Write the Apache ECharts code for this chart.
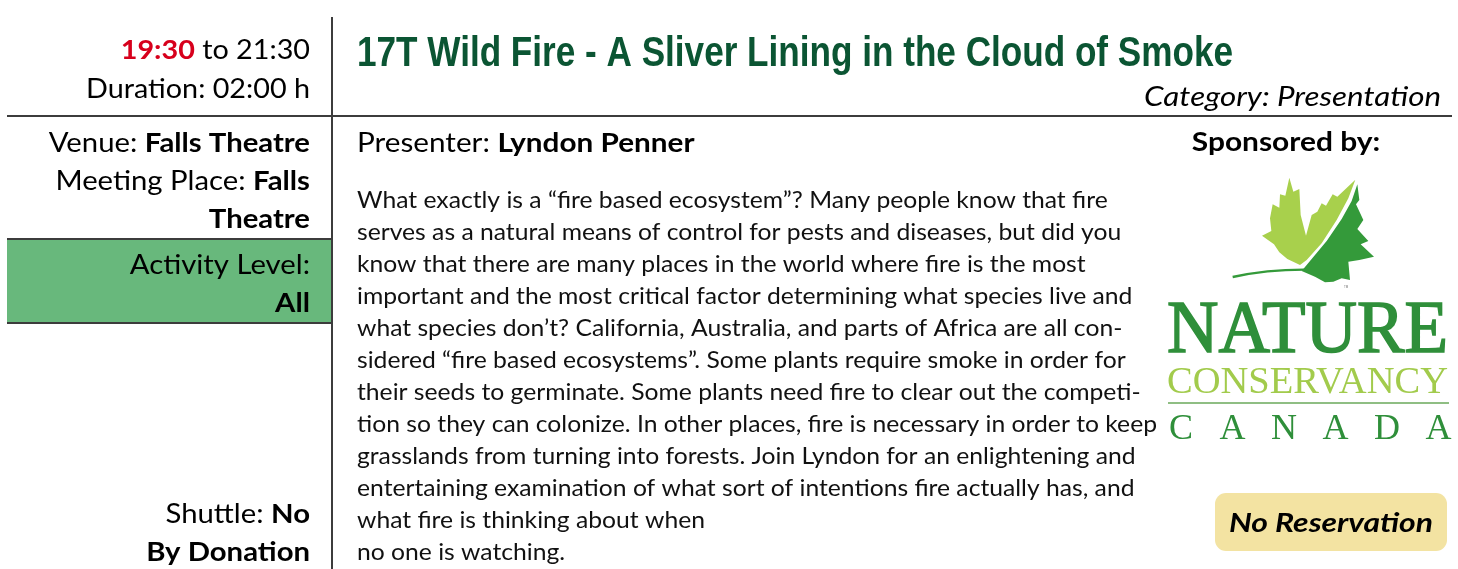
<!DOCTYPE html>
<html>
<head>
<meta charset="utf-8">
<script src="https://cdn.jsdelivr.net/npm/echarts@6/dist/echarts.min.js"></script>
<style>
  html, body { margin: 0; padding: 0; background: #fff; }
  #main { width: 1458px; height: 569px; }
</style>
</head>
<body>
<div id="main"></div>
<script>
// text content of the programme card
const timeLines = ['{r|19:30} to 21:30', 'Duration: 02:00 h'];
const titleText = '17T Wild Fire - A Sliver Lining in the Cloud of Smoke';
const categoryText = 'Category: Presentation';
const venueLines = ['Venue: {b|Falls Theatre}', 'Meeting Place: {b|Falls}', '{b|Theatre}'];
const activityLines = ['Activity Level:', '{b|All}'];
const footLines = ['Shuttle: {b|No}', '{b|By Donation}'];
const presenterText = 'Presenter: {b|Lyndon Penner}';
const bodyLines = [
  'What exactly is a \u201cfire based ecosystem\u201d? Many people know that fire',
  'serves as a natural means of control for pests and diseases, but did you',
  'know that there are many places in the world where fire is the most',
  'important and the most critical factor determining what species live and',
  'what species don\u2019t? California, Australia, and parts of Africa are all con-',
  'sidered \u201cfire based ecosystems\u201d. Some plants require smoke in order for',
  'their seeds to germinate. Some plants need fire to clear out the competi-',
  'tion so they can colonize. In other places, fire is necessary in order to keep',
  'grasslands from turning into forests. Join Lyndon for an enlightening and',
  'entertaining examination of what sort of intentions fire actually has, and',
  'what fire is thinking about when',
  'no one is watching.'
];
const sponsorText = 'Sponsored by:';
const badgeText = 'No Reservation';
const logoWords = ['NATURE', 'CONSERVANCY', 'CANADA'];

const FONT = 'Lato, "Open Sans", sans-serif';
const richB = { b: { fontWeight: 'bold', fontFamily: FONT, fontSize: 27, fill: '#000' },
                r: { fontWeight: 'bold', fontFamily: FONT, fontSize: 27, fill: '#d7001c' } };

const chart = echarts.init(document.getElementById('main'), null, { renderer: 'canvas' });

// width helper so the substitute faces can be squeezed/stretched to fit
const ctx = document.createElement('canvas').getContext('2d');
function textWidth(txt, font) { ctx.font = font; return ctx.measureText(txt).width; }

function rt(text, x, y, align, size, sx, extra) {
  return {
    type: 'text', x: x, y: y, scaleX: sx || 1,
    style: Object.assign({ text: text, fontFamily: FONT, fontSize: size, fill: '#000',
             align: align, verticalAlign: 'middle', rich: richB }, extra || {})
  };
}

const elements = [];

// rules
const lineStyle = { stroke: '#3c3c3c', lineWidth: 2 };
elements.push({ type: 'rect', shape: { x: 7, y: 239, width: 325, height: 84 },
  style: { fill: '#68b87c' } });
elements.push({ type: 'line', shape: { x1: 332, y1: 17, x2: 332, y2: 569 }, style: lineStyle });
elements.push({ type: 'line', shape: { x1: 7, y1: 116, x2: 1452, y2: 116 }, style: lineStyle });
elements.push({ type: 'line', shape: { x1: 7, y1: 239, x2: 332, y2: 239 }, style: lineStyle });
elements.push({ type: 'line', shape: { x1: 7, y1: 323, x2: 332, y2: 323 }, style: lineStyle });

// left column
const LS = 1.085;
timeLines.forEach((t, i) => elements.push(rt(t, 310, 50 + i * 39, 'right', 27, 1.065)));
venueLines.forEach((t, i) => elements.push(rt(t, 310, 143 + i * 38, 'right', 27, LS)));
activityLines.forEach((t, i) => elements.push(rt(t, 310, 265 + i * 38, 'right', 27, LS)));
footLines.forEach((t, i) => elements.push(rt(t, 310, 514 + i * 38, 'right', 27, LS)));

// title, squeezed to the reference width
const titleFont = 'bold 43px "Liberation Sans", Arial, sans-serif';
const titleScale = 876 / textWidth(titleText, titleFont);
elements.push({ type: 'text', x: 357, y: 54, scaleX: titleScale,
  style: { text: titleText, fontFamily: '"Liberation Sans", Arial, sans-serif', fontWeight: 'bold',
           fontSize: 43, fill: '#0b5533', align: 'left', verticalAlign: 'middle' } });
elements.push(rt(categoryText, 1441, 97, 'right', 27, 1.16, { fontStyle: 'italic' }));

// presenter + description
elements.push(rt(presenterText, 357, 143, 'left', 27, 1.1));
const bodyFont = '23px Lato';
const bodyScale = 800 / textWidth(bodyLines[7], bodyFont);
bodyLines.forEach((t, i) => elements.push({ type: 'text', x: 357, y: 201 + i * 32, scaleX: bodyScale,
  style: { text: t, fontFamily: FONT, fontSize: 23, fill: '#111', align: 'left', verticalAlign: 'middle' } }));

// sponsor block
elements.push(rt(sponsorText, 1286, 143, 'center', 26, 1.15, { fontWeight: 'bold' }));

// leaf mark (drawn in 3x local units)
const lightLeaf = [[268,38],[280,80],[298,72],[302,150],[318,212],[335,150],[352,140],[365,115],[378,122],
  [398,88],[412,95],[466,44],[445,100],[410,165],[365,235],[320,285],[300,300],[262,282],[238,262],
  [222,238],[186,212],[214,198],[210,160],[218,118],[238,128],[240,88],[256,92]];
const darkLeaf = [[472,58],[478,105],[468,118],[490,165],[472,192],[505,228],[482,238],[522,275],[478,285],
  [445,290],[450,345],[425,340],[400,350],[375,352],[345,335],[305,318],[335,282],[380,228],[425,162],[455,108]];
elements.push({ type: 'group', x: 1200, y: 165, scaleX: 1 / 3, scaleY: 1 / 3, children: [
  { type: 'polygon', shape: { points: lightLeaf }, style: { fill: '#a8d04c' } },
  { type: 'polygon', shape: { points: darkLeaf }, style: { fill: '#349a3a' } },
  { type: 'bezierCurve', shape: { x1: 98, y1: 336, cpx1: 200, cpy1: 314, x2: 312, y2: 314 },
    style: { stroke: '#349a3a', lineWidth: 7, fill: null } },
  { type: 'text', x: 432, y: 366, style: { text: 'TM', fontSize: 9, fill: '#777', align: 'left', verticalAlign: 'middle' } }
] });

const serif = '"Liberation Serif", "DejaVu Serif", serif';
const natScale = 281 / textWidth(logoWords[0], '74px ' + serif);
elements.push({ type: 'text', x: 1167, y: 333, scaleX: natScale,
  style: { text: logoWords[0], fontFamily: serif, fontSize: 74, fill: '#2f8f3a', stroke: '#2f8f3a', lineWidth: 1.6,
           align: 'left', verticalAlign: 'middle' } });
const conScale = 281 / textWidth(logoWords[1], '37px ' + serif);
elements.push({ type: 'text', x: 1167, y: 383, scaleX: conScale,
  style: { text: logoWords[1], fontFamily: serif, fontSize: 37, fill: '#a2cb4c', align: 'left', verticalAlign: 'middle' } });
elements.push({ type: 'line', shape: { x1: 1168, y1: 403, x2: 1449, y2: 403 }, style: { stroke: '#6aa85a', lineWidth: 1.5 } });
logoWords[2].split('').forEach((c, i) => elements.push({ type: 'text', x: 1181 + i * 51.5, y: 430,
  style: { text: c, fontFamily: serif, fontSize: 36, fill: '#2f8f3a', align: 'center', verticalAlign: 'middle' } }));

// badge
elements.push({ type: 'rect', shape: { x: 1215, y: 493, width: 232, height: 58, r: 11 },
  style: { fill: '#f3e3a2' } });
elements.push(rt(badgeText, 1331, 523, 'center', 27, 1.18, { fontWeight: 'bold', fontStyle: 'italic' }));

chart.setOption({ animation: false, backgroundColor: '#fff', graphic: { elements: elements } });
</script>
</body>
</html>
